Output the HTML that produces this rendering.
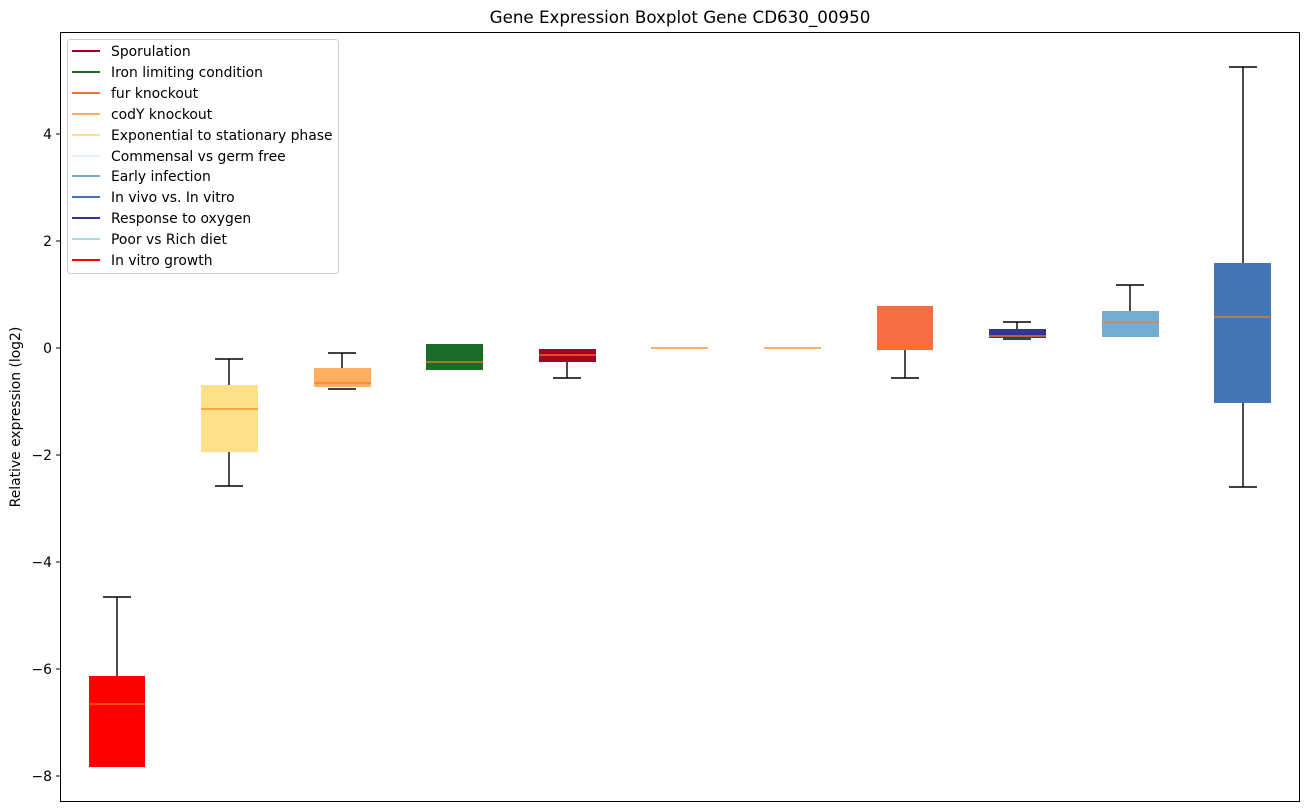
<!DOCTYPE html>
<html><head><meta charset="utf-8"><style>body{margin:0;background:#fff}svg{display:block;font-family:"DejaVu Sans","Liberation Sans",sans-serif}</style></head><body>
<svg width="1309" height="812" viewBox="0 0 1309 812">
<text x="680" y="23" font-size="16.7" text-anchor="middle" fill="#000">Gene Expression Boxplot Gene CD630_00950</text>
<g stroke="#000" stroke-width="1.4">
<line x1="117" y1="597" x2="117" y2="676"/><line x1="103" y1="597" x2="131" y2="597"/>
<line x1="229" y1="359" x2="229" y2="385"/><line x1="229" y1="452" x2="229" y2="486"/>
<line x1="215" y1="359" x2="243" y2="359"/><line x1="215" y1="486" x2="243" y2="486"/>
<line x1="342" y1="353" x2="342" y2="368"/><line x1="328" y1="353" x2="356" y2="353"/><line x1="328" y1="389" x2="356" y2="389"/>
<line x1="567" y1="362" x2="567" y2="378"/><line x1="553" y1="378" x2="581" y2="378"/>
<line x1="905" y1="350" x2="905" y2="378"/><line x1="891" y1="378" x2="919" y2="378"/>
<line x1="1017" y1="322" x2="1017" y2="329"/><line x1="1003" y1="322" x2="1031" y2="322"/><line x1="1003" y1="339" x2="1031" y2="339"/>
<line x1="1130" y1="285" x2="1130" y2="311"/><line x1="1116" y1="285" x2="1144" y2="285"/>
<line x1="1243" y1="67" x2="1243" y2="263"/><line x1="1243" y1="403" x2="1243" y2="487"/>
<line x1="1229" y1="67" x2="1257" y2="67"/><line x1="1229" y1="487" x2="1257" y2="487"/>
</g>
<rect x="89" y="676" width="56" height="91" fill="#ff0000"/>
<rect x="201" y="385" width="57" height="67" fill="#fee08b"/>
<rect x="314" y="368" width="57" height="19" fill="#fdae61"/>
<rect x="426" y="344" width="57" height="26" fill="#1a6b2a"/>
<rect x="539" y="349" width="57" height="13" fill="#a50026"/>
<rect x="877" y="306" width="56" height="44" fill="#f46d43"/>
<rect x="989" y="329" width="57" height="9" fill="#313695"/>
<rect x="1102" y="311" width="57" height="26" fill="#74add1"/>
<rect x="1214" y="263" width="57" height="140" fill="#4575b4"/>
<g stroke="#ff7f0e" stroke-width="1.2">
<line x1="89" y1="704" x2="145" y2="704"/><line x1="201" y1="409" x2="258" y2="409"/>
<line x1="314" y1="383" x2="371" y2="383"/><line x1="426" y1="362" x2="483" y2="362"/>
<line x1="539" y1="355" x2="596" y2="355"/><line x1="651" y1="348" x2="708" y2="348"/>
<line x1="764" y1="348" x2="821" y2="348"/><line x1="877" y1="347" x2="933" y2="347"/>
<line x1="989" y1="336" x2="1046" y2="336"/><line x1="1102" y1="322" x2="1159" y2="322"/>
<line x1="1214" y1="317" x2="1271" y2="317"/>
</g>
<rect x="60.5" y="32.5" width="1239" height="769" fill="none" stroke="#000" stroke-width="1"/>
<g stroke="#000"><line x1="56" y1="134" x2="60" y2="134"/><line x1="56" y1="241" x2="60" y2="241"/><line x1="56" y1="348" x2="60" y2="348"/><line x1="56" y1="455" x2="60" y2="455"/><line x1="56" y1="562" x2="60" y2="562"/><line x1="56" y1="669" x2="60" y2="669"/><line x1="56" y1="776" x2="60" y2="776"/></g>
<g font-size="13.9" text-anchor="end" fill="#000">
<text x="52" y="139">4</text><text x="52" y="246">2</text><text x="52" y="353">0</text><text x="52" y="460">−2</text><text x="52" y="567">−4</text><text x="52" y="674">−6</text><text x="52" y="781">−8</text></g>
<text transform="translate(20,417) rotate(-90)" font-size="13.9" text-anchor="middle">Relative expression (log2)</text>
<rect x="67.5" y="39.5" width="271" height="234" rx="3" fill="#fff" stroke="#ccc"/>
<g stroke-width="2">
<line x1="72" y1="51" x2="100" y2="51" stroke="#a50026"/>
<line x1="72" y1="72" x2="100" y2="72" stroke="#1a6b2a"/>
<line x1="72" y1="93" x2="100" y2="93" stroke="#f46d43"/>
<line x1="72" y1="114" x2="100" y2="114" stroke="#fdae61"/>
<line x1="72" y1="135" x2="100" y2="135" stroke="#fee08b"/>
<line x1="72" y1="156" x2="100" y2="156" stroke="#e0f3f8"/>
<line x1="72" y1="176" x2="100" y2="176" stroke="#74add1"/>
<line x1="72" y1="197" x2="100" y2="197" stroke="#4575b4"/>
<line x1="72" y1="218" x2="100" y2="218" stroke="#313695"/>
<line x1="72" y1="239" x2="100" y2="239" stroke="#abd9e9"/>
<line x1="72" y1="260" x2="100" y2="260" stroke="#ff0000"/>
</g>
<g font-size="13.9" fill="#000">
<text x="111" y="56">Sporulation</text><text x="111" y="77">Iron limiting condition</text><text x="111" y="98">fur knockout</text><text x="111" y="119">codY knockout</text><text x="111" y="140">Exponential to stationary phase</text><text x="111" y="161">Commensal vs germ free</text><text x="111" y="181">Early infection</text><text x="111" y="202">In vivo vs. In vitro</text><text x="111" y="223">Response to oxygen</text><text x="111" y="244">Poor vs Rich diet</text><text x="111" y="265">In vitro growth</text>
</g>
</svg>
</body></html>
